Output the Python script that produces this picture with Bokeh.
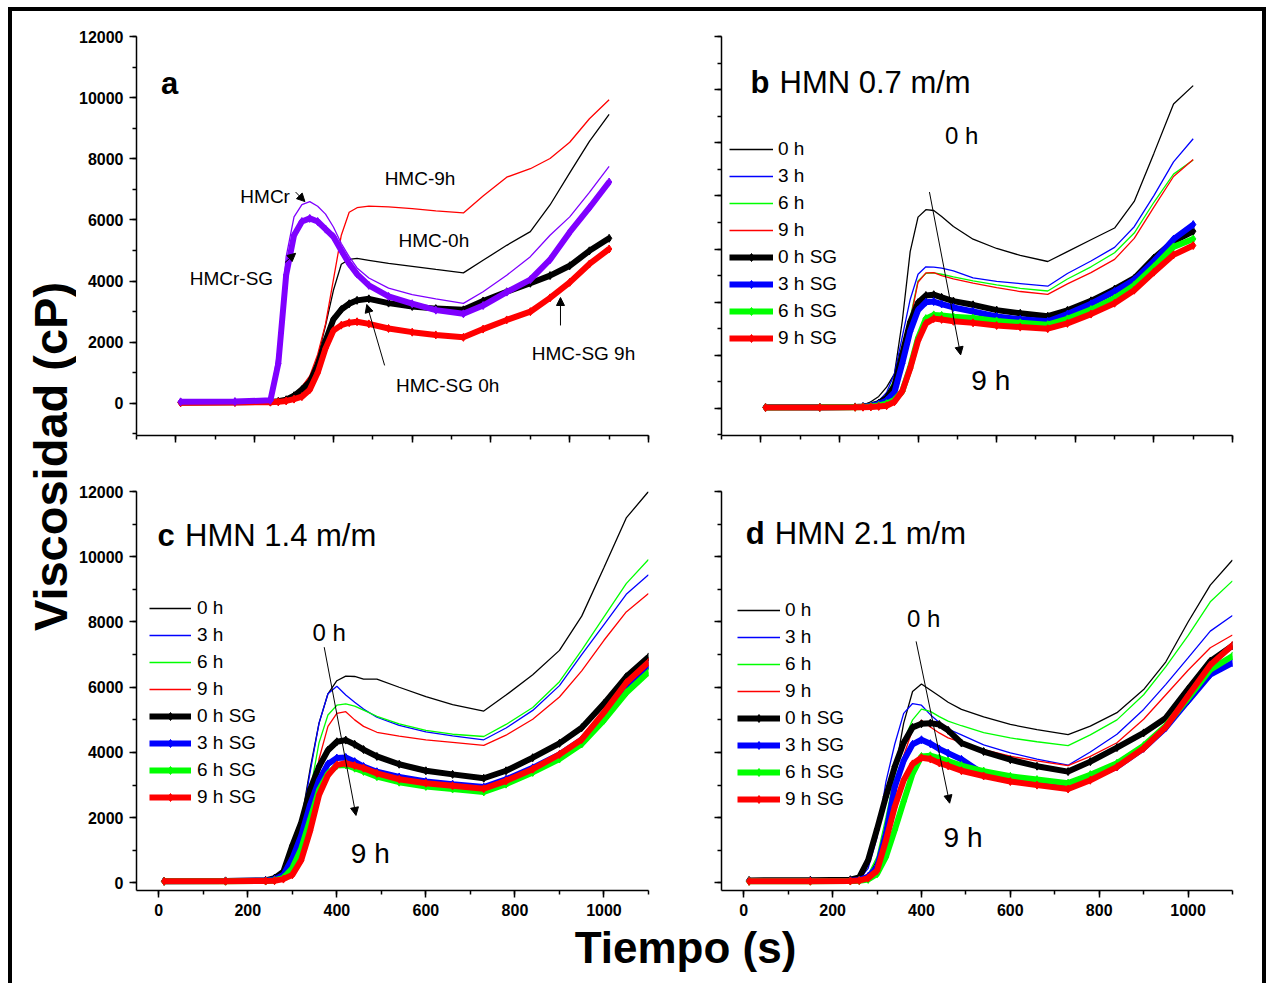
import math
from bokeh.plotting import figure
from bokeh.layouts import row, column
from bokeh.models import (Label, Arrow, NormalHead, SingleIntervalTicker, Range1d,
                          CustomJSTickFormatter)
from bokeh.embed import file_html
from bokeh.resources import INLINE

FONT = "Liberation Sans"

# ---------------- data ----------------
T = [12, 150, 240, 260, 280, 300, 320, 340, 360, 380, 400, 420, 440, 460, 490,
     540, 600, 660, 730, 780, 840, 900, 950, 1000, 1050, 1100]

# panel a
A_HMCR = [60, 70, 120, 1800, 4800, 6100, 6500, 6600, 6450, 6190, 5770, 5230, 4800, 4430, 4100,
          3770, 3560, 3420, 3270, 3650, 4190, 4800, 5500, 6100, 6900, 7750]
A_HMCR_SG = [50, 60, 100, 1300, 4200, 5500, 5950, 6050, 5950, 5700, 5450, 5000, 4570, 4230, 3860,
             3500, 3260, 3050, 2930, 3200, 3640, 4050, 4700, 5600, 6400, 7240]
A_HMC_0H = [40, 50, 60, 80, 150, 300, 550, 850, 1500, 2550, 3700, 4550, 4710, 4740, 4680,
            4580, 4480, 4380, 4270, 4680, 5170, 5620, 6490, 7540, 8570, 9450]
A_HMC_9H = [40, 50, 60, 80, 150, 300, 550, 900, 1600, 2600, 4050, 5500, 6250, 6400, 6450,
            6430, 6370, 6300, 6230, 6780, 7400, 7675, 8010, 8540, 9310, 9930]
A_HMC_SG_0H = [30, 40, 50, 70, 120, 250, 450, 700, 1250, 2050, 2750, 3070, 3260, 3370, 3420,
               3280, 3170, 3100, 3060, 3350, 3650, 3930, 4180, 4500, 4990, 5400]
A_HMC_SG_9H = [20, 30, 40, 50, 80, 140, 220, 450, 1000, 1800, 2380, 2560, 2640, 2670, 2600,
               2450, 2330, 2240, 2160, 2430, 2730, 3000, 3450, 3960, 4560, 5050]

# panel b  (HMN 0.7 m/m)
B_0H = [50, 60, 80, 120, 250, 450, 800, 1300, 3300, 5900, 7200, 7480, 7450, 7220, 6850,
        6370, 6020, 5760, 5530, 5900, 6350, 6790, 7790, 9600, 11460, 12150]
B_3H = [50, 60, 70, 90, 150, 280, 600, 1300, 2700, 4100, 5050, 5330, 5320, 5280, 5180,
        4910, 4780, 4700, 4600, 5080, 5550, 6060, 6840, 8010, 9280, 10150]
B_6H = [50, 55, 65, 80, 130, 240, 500, 1100, 2200, 3400, 4800, 5080, 5100, 5050, 4950,
        4800, 4650, 4520, 4420, 4870, 5330, 5860, 6600, 7760, 8820, 9350]
B_9H = [50, 55, 65, 80, 120, 220, 450, 1000, 2100, 3300, 4750, 5100, 5110, 5000, 4880,
        4720, 4550, 4400, 4290, 4690, 5110, 5610, 6400, 7580, 8730, 9370]
B_0H_SG = [40, 45, 55, 70, 110, 200, 400, 850, 2050, 3250, 3980, 4250, 4280, 4180, 4040,
           3900, 3700, 3580, 3470, 3690, 4050, 4490, 4900, 5660, 6290, 6670]
B_3H_SG = [40, 45, 55, 65, 100, 170, 300, 600, 1700, 2900, 3700, 4000, 4020, 3930, 3800,
           3650, 3460, 3360, 3280, 3550, 3940, 4400, 4840, 5540, 6370, 6920]
B_6H_SG = [35, 40, 45, 55, 75, 110, 180, 320, 650, 1550, 2650, 3380, 3520, 3500, 3450,
           3400, 3290, 3220, 3150, 3370, 3720, 4150, 4640, 5330, 6080, 6380]
B_9H_SG = [30, 35, 40, 45, 55, 75, 100, 250, 650, 1500, 2550, 3200, 3380, 3350, 3280,
           3220, 3120, 3060, 3000, 3200, 3550, 3960, 4450, 5130, 5780, 6130]

# panel c  (HMN 1.4 m/m)
C_0H = [50, 55, 70, 100, 250, 700, 1900, 3500, 4900, 5800, 6200, 6340, 6330, 6250, 6250,
        6000, 5710, 5470, 5270, 5760, 6380, 7130, 8180, 9670, 11190, 12000]
C_3H = [50, 55, 65, 90, 200, 600, 1800, 3400, 4900, 5800, 6030, 5760, 5540, 5330, 5080,
        4830, 4630, 4510, 4390, 4750, 5290, 6050, 7000, 7920, 8850, 9450]
C_6H = [50, 55, 60, 70, 120, 350, 1200, 2800, 4300, 5150, 5450, 5490, 5420, 5300, 5110,
        4880, 4680, 4560, 4490, 4860, 5380, 6170, 7140, 8160, 9175, 9915]
C_9H = [45, 50, 55, 65, 100, 250, 800, 2200, 3800, 4800, 5200, 5250, 5000, 4800, 4620,
        4500, 4390, 4310, 4220, 4530, 5020, 5700, 6500, 7440, 8310, 8870]
C_0H_SG = [60, 65, 80, 150, 350, 1150, 1850, 2860, 3570, 4070, 4330, 4380, 4250, 4090, 3880,
           3640, 3440, 3330, 3210, 3440, 3840, 4280, 4760, 5500, 6320, 6930]
C_3H_SG = [55, 60, 70, 110, 250, 750, 1450, 2400, 3150, 3650, 3830, 3850, 3720, 3570, 3410,
           3250, 3110, 3030, 2940, 3180, 3530, 3940, 4400, 5170, 6040, 6670]
C_6H_SG = [50, 55, 60, 80, 160, 450, 1050, 1950, 2850, 3350, 3600, 3620, 3520, 3420, 3260,
           3090, 2960, 2880, 2790, 3030, 3390, 3800, 4260, 4990, 5830, 6460]
C_9H_SG = [50, 55, 60, 70, 120, 250, 700, 1600, 2700, 3300, 3620, 3670, 3600, 3520, 3360,
           3180, 3060, 2980, 2890, 3130, 3490, 3940, 4400, 5230, 6140, 6770]

# panel d  (HMN 2.1 m/m)
D_0H = [60, 65, 75, 100, 250, 700, 1800, 3400, 4900, 5870, 6100, 5915, 5730, 5540, 5320,
        5090, 4860, 4700, 4550, 4810, 5220, 5930, 6780, 8000, 9130, 9900]
D_3H = [55, 60, 70, 110, 450, 1400, 3100, 4260, 5200, 5500, 5450, 5160, 4920, 4720, 4540,
        4234, 3990, 3800, 3610, 4015, 4560, 5320, 6090, 6900, 7720, 8200]
D_6H = [55, 60, 70, 90, 250, 800, 2000, 3300, 4350, 5000, 5330, 5260, 5100, 4960, 4820,
        4610, 4445, 4330, 4210, 4540, 5000, 5770, 6630, 7580, 8620, 9260]
D_9H = [50, 55, 65, 85, 180, 600, 1600, 2800, 3900, 4700, 4990, 4780, 4600, 4450, 4310,
        4090, 3885, 3740, 3600, 3880, 4300, 5020, 5770, 6520, 7210, 7600]
D_0H_SG = [80, 85, 100, 170, 700, 1650, 2650, 3570, 4300, 4770, 4880, 4900, 4860, 4680, 4290,
           4030, 3780, 3580, 3415, 3720, 4150, 4600, 5060, 5940, 6800, 7270]
D_3H_SG = [60, 65, 70, 90, 200, 480, 1500, 2950, 3750, 4250, 4390, 4270, 4110, 3980, 3790,
           3340, 3170, 3060, 2950, 3200, 3560, 4130, 4760, 5580, 6390, 6750]
D_6H_SG = [50, 55, 60, 70, 110, 280, 800, 1630, 2500, 3350, 3880, 3900, 3830, 3740, 3600,
           3430, 3270, 3170, 3060, 3320, 3670, 4210, 4820, 5660, 6540, 6960]
D_9H_SG = [50, 55, 60, 75, 150, 380, 1300, 2340, 3150, 3650, 3840, 3800, 3680, 3590, 3440,
           3280, 3110, 3000, 2880, 3150, 3560, 4130, 4785, 5740, 6680, 7290]

LEG_LABELS = ["0 h", "3 h", "6 h", "9 h", "0 h SG", "3 h SG", "6 h SG", "9 h SG"]
COLORS = ["#000000", "#0000FF", "#00FF00", "#FF0000"]
VIOLET = "#7F00FF"

# ---------------- helpers ----------------
def make_panel(xr, yr, fw, left, right, top, bottom, xlabels, ylabels):
    p = figure(frame_width=fw, frame_height=399, x_range=Range1d(*xr), y_range=Range1d(*yr),
               output_backend="svg", toolbar_location=None,
               min_border_left=left, min_border_right=right,
               min_border_top=top, min_border_bottom=bottom)
    p.outline_line_color = None
    p.grid.visible = False
    p.xaxis.ticker = SingleIntervalTicker(interval=200, num_minor_ticks=2)
    p.yaxis.ticker = SingleIntervalTicker(interval=2000, num_minor_ticks=2)
    for ax in (p.xaxis[0], p.yaxis[0]):
        ax.axis_line_width = 1.5
        ax.axis_line_color = "black"
        ax.major_tick_out = 7
        ax.major_tick_in = 0
        ax.minor_tick_out = 4
        ax.minor_tick_in = 0
        ax.major_tick_line_width = 1.5
        ax.minor_tick_line_width = 1.5
        ax.major_tick_line_color = "black"
        ax.minor_tick_line_color = "black"
        ax.major_label_text_font = FONT
        ax.major_label_text_font_style = "bold"
        ax.major_label_text_font_size = "16px"
        ax.major_label_text_color = "black"
        ax.major_label_standoff = 6
    if not xlabels:
        p.xaxis[0].formatter = CustomJSTickFormatter(code="return ''")
    if not ylabels:
        p.yaxis[0].formatter = CustomJSTickFormatter(code="return ''")
    return p


def thin(p, ys, color, label=None):
    kw = {"legend_label": label} if label else {}
    p.line(T, ys, line_color=color, line_width=1.3, **kw)


def thick(p, ys, color, label=None):
    kw = {"legend_label": label} if label else {}
    p.line(T, ys, line_color=color, line_width=6, **kw)
    p.scatter(T, ys, marker="diamond", size=8, fill_color=color, line_color=color, **kw)


def txt(p, x, y, s, size, bold=False, align="center", baseline="middle"):
    p.add_layout(Label(x=x, y=y, text=s, text_font=FONT, text_font_size=f"{size}px",
                       text_font_style="bold" if bold else "normal", text_color="black",
                       text_align=align, text_baseline=baseline))


def arrow(p, x0, y0, x1, y1):
    p.add_layout(Arrow(x_start=x0, y_start=y0, x_end=x1, y_end=y1, line_width=1,
                       line_color="black",
                       end=NormalHead(size=8, fill_color="black", line_color="black")))


def style_legend(p, loc, gw, standoff):
    lg = p.legend[0]
    lg.location = loc
    lg.background_fill_alpha = 0
    lg.border_line_color = None
    lg.padding = 0
    lg.margin = 0
    lg.spacing = 5
    lg.glyph_width = gw
    lg.glyph_height = 20
    lg.label_height = 20
    lg.label_standoff = standoff
    lg.label_text_font = FONT
    lg.label_text_font_size = "19px"
    lg.label_text_color = "black"


def series_panel(p, data):
    for ys, c, lab in zip(data[:4], COLORS, LEG_LABELS[:4]):
        thin(p, ys, c, lab)
    for ys, c, lab in zip(data[4:], COLORS, LEG_LABELS[4:]):
        thick(p, ys, c, lab)


# ---------------- panel a ----------------
pa = make_panel((-100, 1200), (-1050, 12000), 512, 59, 36, 25, 28, False, True)
thin(pa, A_HMC_0H, "#000000")
thin(pa, A_HMC_9H, "#FF0000")
thin(pa, A_HMCR, VIOLET)
thick(pa, A_HMC_SG_0H, "#000000")
thick(pa, A_HMC_SG_9H, "#FF0000")
thick(pa, A_HMCR_SG, VIOLET)
txt(pa, -37.5, 10448, "a", 31, bold=True, align="left", baseline="alphabetic")
txt(pa, 226.6, 6765, "HMCr", 19)
txt(pa, 141, 4085, "HMCr-SG", 19)
txt(pa, 619.8, 7353, "HMC-9h", 19)
txt(pa, 655, 5327, "HMC-0h", 19)
txt(pa, 690, 588, "HMC-SG 0h", 19)
txt(pa, 1035, 1634, "HMC-SG 9h", 19)
arrow(pa, 304, 6912, 327.6, 6601)
arrow(pa, 276.9, 4608, 304, 4909)
arrow(pa, 530, 1242, 484.8, 3235)
arrow(pa, 976.5, 2549, 976.5, 3464)

# ---------------- panel b ----------------
pb = make_panel((-100, 1200), (-1020, 14000), 511, 37, 30, 25, 28, False, False)
series_panel(pb, [B_0H, B_3H, B_6H, B_9H, B_0H_SG, B_3H_SG, B_6H_SG, B_9H_SG])
style_legend(pb, (8, 86), 44, 5)
txt(pb, -26.5, 12254, "b", 31, bold=True, align="left", baseline="alphabetic")
txt(pb, 47.6, 12254, "HMN 0.7 m/m", 31, align="left", baseline="alphabetic")
txt(pb, 511, 10265, "0 h", 24)
txt(pb, 585, 1057, "9 h", 28)
arrow(pb, 429, 8144, 508.4, 2015)

# ---------------- panel c ----------------
pc = make_panel((-50, 1100), (-230, 12000), 512, 59, 36, 28, 34, True, True)
series_panel(pc, [C_0H, C_3H, C_6H, C_9H, C_0H_SG, C_3H_SG, C_6H_SG, C_9H_SG])
style_legend(pc, (13, 82), 42, 6)
txt(pc, -3, 10666, "c", 31, bold=True, align="left", baseline="alphabetic")
txt(pc, 59.2, 10666, "HMN 1.4 m/m", 31, align="left", baseline="alphabetic")
txt(pc, 383, 7678, "0 h", 24)
txt(pc, 475, 911, "9 h", 28)
arrow(pc, 371.6, 7228, 443, 2071)

# ---------------- panel d ----------------
pd_ = make_panel((-50, 1100), (-230, 12000), 511, 37, 30, 28, 34, True, False)
series_panel(pd_, [D_0H, D_3H, D_6H, D_9H, D_0H_SG, D_3H_SG, D_6H_SG, D_9H_SG])
style_legend(pd_, (16, 80), 43, 5)
txt(pd_, 4.5, 10717, "d", 31, bold=True, align="left", baseline="alphabetic")
txt(pd_, 70, 10717, "HMN 2.1 m/m", 31, align="left", baseline="alphabetic")
txt(pd_, 405, 8102, "0 h", 24)
txt(pd_, 493.6, 1381, "9 h", 28)
arrow(pd_, 388, 7406, 463.4, 2446)

# ---------------- global axis titles ----------------
def blank(w, h):
    f = figure(width=w, height=h, x_range=Range1d(0, w), y_range=Range1d(0, h),
               output_backend="svg", toolbar_location=None,
               x_axis_location=None, y_axis_location=None,
               min_border_left=0, min_border_right=0, min_border_top=0, min_border_bottom=0)
    f.outline_line_color = None
    f.grid.visible = False
    return f

TOTAL_H = 452 + 461 + 59
ylab = blank(64, TOTAL_H)
ylab.add_layout(Label(x=38, y=TOTAL_H - 445, text="Viscosidad (cP)", angle=math.pi / 2,
                      text_font=FONT, text_font_size="47px", text_font_style="bold",
                      text_align="center", text_baseline="middle", text_color="black"))

xlab = blank(1178, 59)
xlab.add_layout(Label(x=609, y=36, text="Tiempo (s)", text_font=FONT, text_font_size="44px",
                      text_font_style="bold", text_align="center", text_baseline="middle",
                      text_color="black"))

layout = row(ylab, column(row(pa, pb), row(pc, pd_), xlab),
             styles={"margin-left": "8px", "margin-top": "7px",
                     "border-left": "4px solid black", "border-top": "4px solid black",
                     "border-right": "4px solid black"})

open("out.html", "w").write(file_html(layout, INLINE))
